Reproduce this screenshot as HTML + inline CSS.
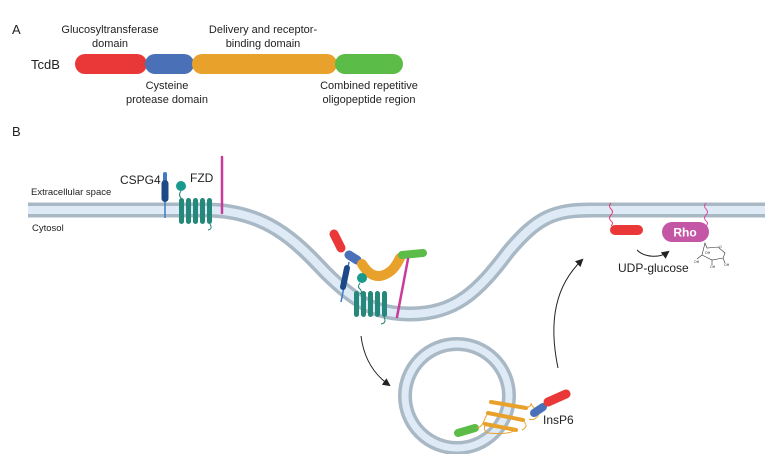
<!DOCTYPE html>
<html><head><meta charset="utf-8"><style>
html,body{margin:0;padding:0;background:#fff;}
svg{display:block;font-family:"Liberation Sans",Arial,sans-serif;}
</style></head><body>
<svg width="765" height="454" viewBox="0 0 765 454">
<!-- Panel A -->
<text x="12" y="34" font-size="13" fill="#222">A</text>
<text x="31" y="69" font-size="13" fill="#222">TcdB</text>
<text x="110" y="33" font-size="11" fill="#222" text-anchor="middle">Glucosyltransferase</text>
<text x="110" y="47" font-size="11" fill="#222" text-anchor="middle">domain</text>
<text x="263" y="33" font-size="11" fill="#222" text-anchor="middle">Delivery and receptor-</text>
<text x="263" y="47" font-size="11" fill="#222" text-anchor="middle">binding domain</text>
<text x="167" y="89" font-size="11" fill="#222" text-anchor="middle">Cysteine</text>
<text x="167" y="103" font-size="11" fill="#222" text-anchor="middle">protease domain</text>
<text x="369" y="89" font-size="11" fill="#222" text-anchor="middle">Combined repetitive</text>
<text x="369" y="103" font-size="11" fill="#222" text-anchor="middle">oligopeptide region</text>
<rect x="75" y="54" width="72" height="20" rx="10" fill="#ea3838"/>
<rect x="145" y="54" width="49" height="20" rx="10" fill="#4a71b8"/>
<rect x="192" y="54" width="145" height="20" rx="10" fill="#e8a22c"/>
<rect x="335" y="54" width="68" height="20" rx="10" fill="#5bbc47"/>

<!-- Panel B -->
<text x="12" y="136" font-size="13" fill="#222">B</text>
<text x="31" y="195" font-size="9.5" fill="#222">Extracellular space</text>
<text x="32" y="231" font-size="9.5" fill="#222">Cytosol</text>

<path id="mem" d="M28,210 L205,210 C265,210 295,240 325,272 C355,302 375,314 410,314 C455,314 478,292 508,252 C538,216 555,210 592,210 L765,210" fill="none" stroke="#a9b8c5" stroke-width="15"/>
<path d="M28,210 L205,210 C265,210 295,240 325,272 C355,302 375,314 410,314 C455,314 478,292 508,252 C538,216 555,210 592,210 L765,210" fill="none" stroke="#deeaf5" stroke-width="8"/>

<!-- vesicle -->
<circle cx="457" cy="396" r="52" fill="none" stroke="#a9b8c5" stroke-width="14"/>
<circle cx="457" cy="396" r="52" fill="none" stroke="#deeaf5" stroke-width="7"/>

<!-- CSPG4 left -->
<line x1="165" y1="175" x2="165" y2="218" stroke="#3d7cc4" stroke-width="1.5"/>
<rect x="163" y="172" width="4" height="10" rx="2" fill="#3d7cc4"/>
<rect x="161.5" y="180" width="7" height="22" rx="3.5" fill="#1b4a86"/>
<text x="120" y="184" font-size="12" fill="#222">CSPG4</text>
<!-- FZD left -->
<circle cx="181" cy="186" r="5" fill="#1a9a8c"/>
<path d="M181,191 q-3,4 0,7 q3,3 0,6" fill="none" stroke="#1e7f74" stroke-width="1"/>
<g fill="#24887b">
<rect x="179" y="198" width="5" height="26" rx="2.5"/>
<rect x="186" y="198" width="5" height="26" rx="2.5"/>
<rect x="193" y="198" width="5" height="26" rx="2.5"/>
<rect x="200" y="198" width="5" height="26" rx="2.5"/>
<rect x="207" y="198" width="5" height="26" rx="2.5"/>
</g>
<path d="M210,224 q3,5 -2,6" fill="none" stroke="#1e7f74" stroke-width="1"/>
<text x="190" y="182" font-size="12" fill="#222">FZD</text>
<!-- magenta left -->
<line x1="222" y1="157" x2="222" y2="213" stroke="#c93b9b" stroke-width="2.5" stroke-linecap="round"/>

<!-- middle complex -->
<line x1="334" y1="234" x2="341" y2="248" stroke="#ea3838" stroke-width="9" stroke-linecap="round"/>
<line x1="349" y1="255" x2="357" y2="260" stroke="#4a71b8" stroke-width="9" stroke-linecap="round"/>
<path d="M362,264 C368,274 378,282 392,270 C396,266 398,262 400,258" fill="none" stroke="#e8a22c" stroke-width="10" stroke-linecap="round"/>
<line x1="402" y1="255" x2="423" y2="253" stroke="#5bbc47" stroke-width="8" stroke-linecap="round"/>
<line x1="408" y1="259" x2="397" y2="317" stroke="#c93b9b" stroke-width="2.5" stroke-linecap="round"/>
<line x1="349" y1="262" x2="341" y2="302" stroke="#3d7cc4" stroke-width="1.5"/>
<line x1="347" y1="268" x2="343" y2="287" stroke="#1b4a86" stroke-width="6" stroke-linecap="round"/>
<circle cx="362" cy="278" r="5" fill="#1a9a8c"/>
<path d="M360,283 q-3,4 0,6 q3,3 0,5" fill="none" stroke="#1e7f74" stroke-width="1"/>
<g fill="#24887b">
<rect x="354" y="291" width="5" height="26" rx="2.5"/>
<rect x="361" y="291" width="5" height="26" rx="2.5"/>
<rect x="368" y="291" width="5" height="26" rx="2.5"/>
<rect x="375" y="291" width="5" height="26" rx="2.5"/>
<rect x="382" y="291" width="5" height="26" rx="2.5"/>
</g>
<path d="M384,317 q3,6 -3,7" fill="none" stroke="#1e7f74" stroke-width="1"/>

<!-- arrows -->
<defs><marker id="ah" markerWidth="8" markerHeight="8" refX="6" refY="4" orient="auto" markerUnits="userSpaceOnUse"><path d="M0,0 L8,4 L0,8 Z" fill="#222"/></marker></defs>
<path d="M361,336 C364,360 375,375 389,385" fill="none" stroke="#222" stroke-width="1" marker-end="url(#ah)"/>
<path d="M558,368 C548,320 556,285 582,260" fill="none" stroke="#222" stroke-width="1" marker-end="url(#ah)"/>
<path d="M637,250 C645,258 660,258 668,252" fill="none" stroke="#222" stroke-width="1" marker-end="url(#ah)"/>

<!-- vesicle contents -->
<line x1="458" y1="433" x2="475" y2="428" stroke="#5bbc47" stroke-width="8" stroke-linecap="round"/>
<g stroke="#e8a22c" stroke-width="4" stroke-linecap="round">
<line x1="491" y1="402" x2="526" y2="408"/>
<line x1="488" y1="413" x2="523" y2="420"/>
<line x1="485" y1="424" x2="516" y2="430"/>
</g>
<path d="M476,428 C485,428 484,414 490,412 M486,424 q-4,6 2,9 q20,2 28,-3 M522,420 q8,6 0,10 M526,408 q6,-2 5,-5 q2,6 6,6 q4,4 0,8 q-4,4 -8,2" fill="none" stroke="#e8a22c" stroke-width="1"/>
<line x1="534" y1="413" x2="543" y2="407" stroke="#4a71b8" stroke-width="8" stroke-linecap="round"/>
<line x1="548" y1="402" x2="566" y2="394" stroke="#ea3838" stroke-width="9" stroke-linecap="round"/>
<text x="543" y="424" font-size="12" fill="#222">InsP6</text>

<!-- right -->
<path d="M611,203 q-3,3 0,6 q3,3 0,6 q-3,3 0,6 q3,2 0,5" fill="none" stroke="#ea3870" stroke-width="1"/>
<rect x="610" y="225" width="33" height="10" rx="5" fill="#ea3838"/>
<path d="M706,203 q-3,3 0,6 q3,3 0,6 q-3,3 0,6 q3,2 0,5" fill="none" stroke="#d84b9f" stroke-width="1"/>
<rect x="662" y="222" width="47" height="20" rx="10" fill="#c456a6"/>
<text x="685" y="236.5" font-size="12" font-weight="bold" fill="#fff" text-anchor="middle">Rho</text>
<text x="618" y="272" font-size="12" fill="#222">UDP-glucose</text>
<!-- glucose -->
<g fill="none" stroke="#333" stroke-width="0.6">
<path d="M705,243 L707,248 L718,247 L725,253 L723,258 L712,260 L702,255 Z"/>
<line x1="712" y1="260" x2="712" y2="265"/>
<line x1="723" y1="258" x2="725" y2="263"/>
<line x1="702" y1="255" x2="697" y2="259"/>
</g>
<g font-size="3.5" fill="#333">
<text x="705" y="254">OH</text><text x="694" y="263">OH</text><text x="710" y="268">OH</text><text x="724" y="266">OH</text><text x="719" y="248">O</text>
</g>
</svg>
</body></html>
